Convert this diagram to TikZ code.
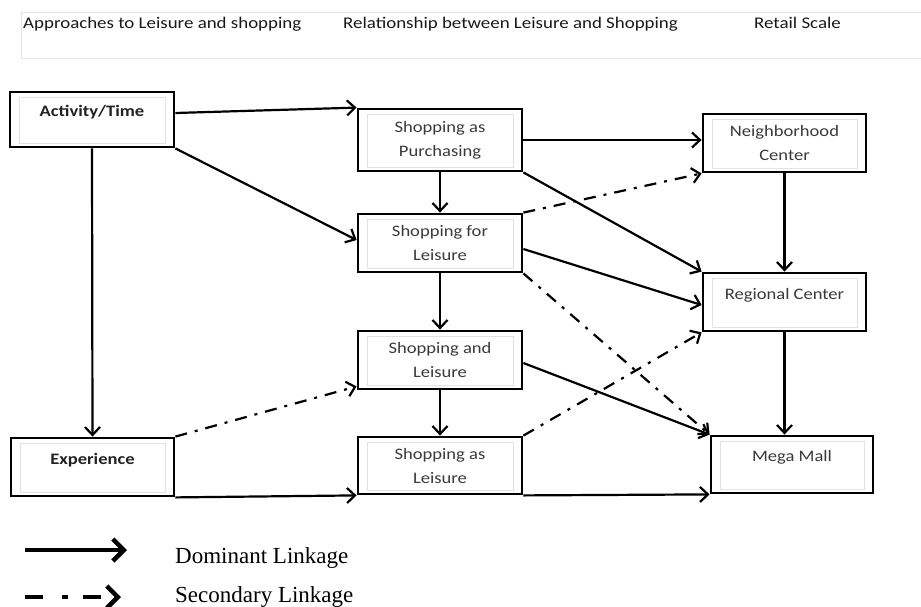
\documentclass[tikz,border=0pt]{standalone}
\usepackage{fontspec}
\setmainfont[FakeStretch=1.16]{Carlito}
\newfontfamily\legendfont{Liberation Serif}
\usetikzlibrary{arrows.meta}
\definecolor{boxtxt}{HTML}{3A3A3A}
\definecolor{boldtxt}{HTML}{222222}
\definecolor{innergray}{HTML}{E2E2E2}
\definecolor{hdrgray}{HTML}{E4E4E4}
\begin{document}
\begin{tikzpicture}[x=1pt,y=-1pt,
  box/.style={draw, line width=2.8pt, rectangle, inner sep=0pt, align=center,
              text=boxtxt, font=\fontsize{16}{24}\selectfont},
  oneline/.style={text depth=17pt},
  boldbox/.style={box, oneline, text=boldtxt, font=\fontsize{16}{24}\selectfont\bfseries},
  innerbox/.style={draw=innergray, line width=0.7pt},
  conn/.style={line width=2.2pt, -{Straight Barb[length=8pt,width=15pt]}},
  second/.style={conn, dash pattern=on 12pt off 8pt on 3pt off 8pt},
  hdr/.style={anchor=base west, inner sep=0pt, text=black!90, font=\fontsize{16.3}{20}\selectfont},
  legtext/.style={anchor=base west, inner sep=0pt, font=\legendfont\fontsize{23}{27}\selectfont},
  legsolid/.style={line width=4.5pt, -{Straight Barb[length=11pt,width=22pt]}},
  legdash/.style={legsolid, dash pattern=on 18pt off 19pt on 6pt off 15pt}]
\clip (0,0) rectangle (921,606);
\fill[white] (0,0) rectangle (921,606);

% header band
\draw[hdrgray, line width=0.8pt] (930,12) -- (21,12) -- (21,58) -- (930,58);
\node[hdr] (h1) at (23,28) {Approaches to Leisure and shopping};
\node[hdr] (h2) at (343,28) {Relationship between Leisure and Shopping};
\node[hdr] (h3) at (754,28) {Retail Scale};

% boxes
\node[boldbox, minimum width=164, minimum height=55] (act) at (92,119.5) {Activity/Time};
\node[boldbox, minimum width=163, minimum height=58] (exp) at (92.5,467) {Experience};
\node[box, minimum width=164, minimum height=62] (sap) at (440,140) {Shopping as\\Purchasing};
\node[box, minimum width=164, minimum height=58] (sfl) at (440,243) {Shopping for\\Leisure};
\node[box, minimum width=164, minimum height=58] (sal) at (440,360) {Shopping and\\Leisure};
\node[box, minimum width=164, minimum height=57] (sasl) at (440,465.5) {Shopping as\\Leisure};
\node[box, minimum width=163, minimum height=58] (nbc) at (784.5,143) {Neighborhood\\Center};
\node[box, oneline, minimum width=163, minimum height=58] (reg) at (784.5,302) {Regional Center};
\node[box, oneline, minimum width=162, minimum height=57] (mega) at (792,464.5) {Mega Mall};

\foreach \n in {act,exp,sap,sfl,sal,sasl,nbc,reg,mega}
  \draw[innerbox] ([xshift=11pt,yshift=-7pt]\n.north west) rectangle ([xshift=-10pt,yshift=5pt]\n.south east);

% dominant linkages
\draw[conn] ([yshift=6.5pt]act.east) -- (sap.north west);
\draw[conn] (act.south east) -- ([yshift=3pt]sfl.west);
\draw[conn] (act.south) -- (exp.north);
\draw[conn] (sap.south) -- (sfl.north);
\draw[conn] (sap.east) -- (sap.east -| nbc.west);
\draw[conn] (sap.south east) -- (reg.north west);
\draw[conn] ([yshift=-6pt]sfl.east) -- ([yshift=-3pt]reg.west);
\draw[conn] (sfl.south) -- (sal.north);
\draw[conn] ([yshift=-3pt]sal.east) -- (mega.north west);
\draw[conn] (sal.south) -- (sasl.north);
\draw[conn] (sasl.south east) -- (mega.south west);
\draw[conn] (exp.south east) -- (sasl.south west);
\draw[conn] (nbc.south) -- (reg.north);
\draw[conn] (reg.south) -- (reg.south |- mega.north);

% secondary linkages
\draw[second] (sfl.north east) -- (nbc.south west);
\draw[second] (sfl.south east) -- (mega.north west);
\draw[second] (sasl.north east) -- (reg.south west);
\draw[second] (exp.north east) -- ([yshift=4pt]sal.south west);

% legend
\coordinate (ls1) at (25,550);
\coordinate (le1) at (127,550);
\coordinate (ls2) at (25,597);
\coordinate (le2) at (121,597);
\draw[legsolid] (ls1) -- (le1);
\draw[legdash] (ls2) -- (le2);
\node[legtext] (lt1) at (175,563) {Dominant Linkage};
\node[legtext] (lt2) at (175,602) {Secondary Linkage};
\end{tikzpicture}
\end{document}
